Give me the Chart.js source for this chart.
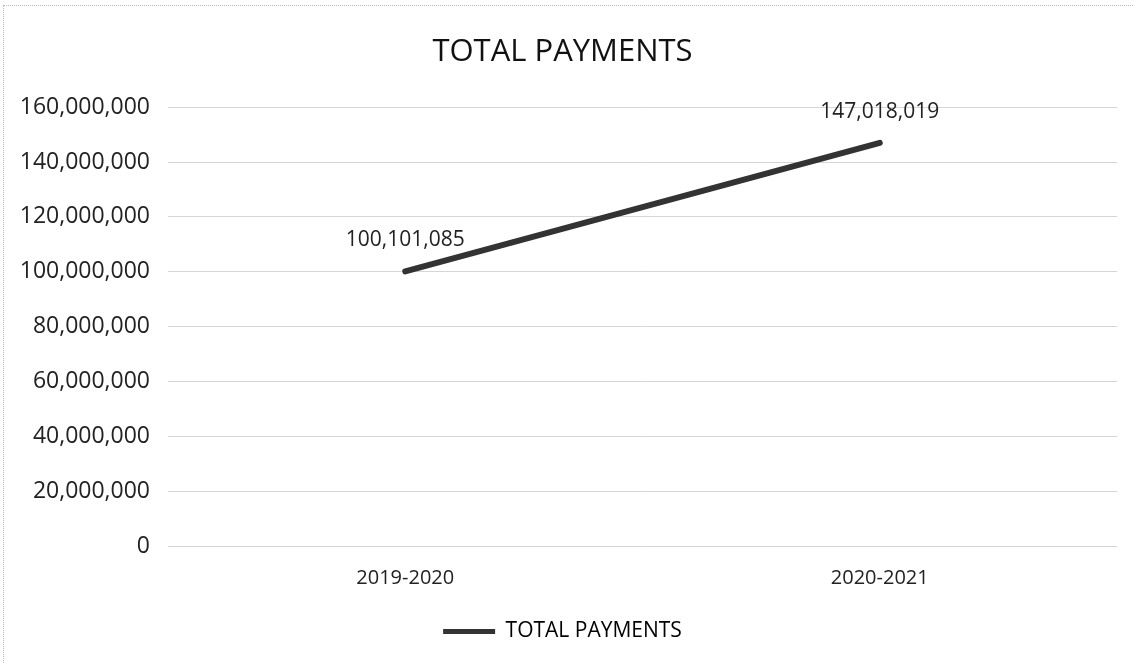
<!DOCTYPE html>
<html>
<head>
<meta charset="utf-8">
<script src="https://cdn.jsdelivr.net/npm/chart.js"></script>
<style>
  html, body { margin: 0; padding: 0; background: #fff; overflow: hidden; }
  #wrap { position: relative; width: 1133px; height: 663px; overflow: hidden; }
  #topLine { position: absolute; left: 3px; top: 5px; width: 1130px; height: 0;
             border-top: 1px dotted #bbb; }
  #leftLine { position: absolute; left: 3px; top: 5px; width: 0; height: 658px;
              border-left: 1px dotted #bbb; }
  canvas { position: absolute; left: 0; top: 0; }
</style>
</head>
<body>
<div id="wrap">
  <div id="topLine"></div>
  <div id="leftLine"></div>
  <canvas id="myChart" width="1133" height="663"></canvas>
</div>
<script>
// chart data
const periods = ["2019-2020", "2020-2021"];
const totalPayments = [100101085, 147018019];
const seriesName = "TOTAL PAYMENTS";

const fontFam = "'Open Sans', 'Noto Sans', sans-serif";
const fmt = v => v.toLocaleString("en-US");

// data labels above each point
const pointLabels = {
  id: "pointLabels",
  afterDatasetsDraw(chart) {
    const ctx = chart.ctx;
    const meta = chart.getDatasetMeta(0);
    ctx.save();
    ctx.font = "21px " + fontFam;
    ctx.fillStyle = "#222";
    ctx.textAlign = "center";
    ctx.textBaseline = "middle";
    meta.data.forEach((pt, i) => {
      ctx.fillText(fmt(chart.data.datasets[0].data[i]), pt.x, pt.y - 31);
    });
    ctx.restore();
  }
};

new Chart("myChart", {
  type: "line",
  data: {
    labels: periods,
    datasets: [{
      label: seriesName,
      data: totalPayments,
      borderColor: "#333",
      backgroundColor: "#333",
      borderWidth: 6,
      pointRadius: 0,
      borderCapStyle: "round",
      tension: 0
    }]
  },
  options: {
    responsive: false,
    animation: false,
    layout: { padding: { left: 8, right: 16, top: 20, bottom: 11 } },
    plugins: {
      title: {
        display: true,
        text: "TOTAL PAYMENTS",
        color: "#111",
        font: { family: fontFam, size: 31, weight: "normal" },
        padding: { top: 14, bottom: 36 }
      },
      legend: {
        position: "bottom",
        labels: {
          color: "#222",
          font: { family: fontFam, size: 21 },
          boxWidth: 52,
          boxHeight: 5,
          padding: 19,
          generateLabels(chart) {
            const ds = chart.data.datasets[0];
            return [{ text: ds.label, fillStyle: ds.borderColor, strokeStyle: ds.borderColor, lineWidth: 0, datasetIndex: 0 }];
          }
        }
      },
      tooltip: { enabled: false }
    },
    scales: {
      x: {
        offset: true,
        grid: { display: false },
        border: { display: false },
        ticks: { color: "#222", font: { family: fontFam, size: 20 }, padding: 12 }
      },
      y: {
        min: 0,
        max: 160000000,
        ticks: {
          stepSize: 20000000,
          color: "#222",
          font: { family: fontFam, size: 23 },
          padding: 18,
          callback: v => fmt(v)
        },
        afterFit(scale) { scale.width = 160; },
        grid: { color: "#d6d6d6", lineWidth: 1, drawTicks: false },
        border: { display: false }
      }
    }
  },
  plugins: [pointLabels]
});
</script>
</body>
</html>
